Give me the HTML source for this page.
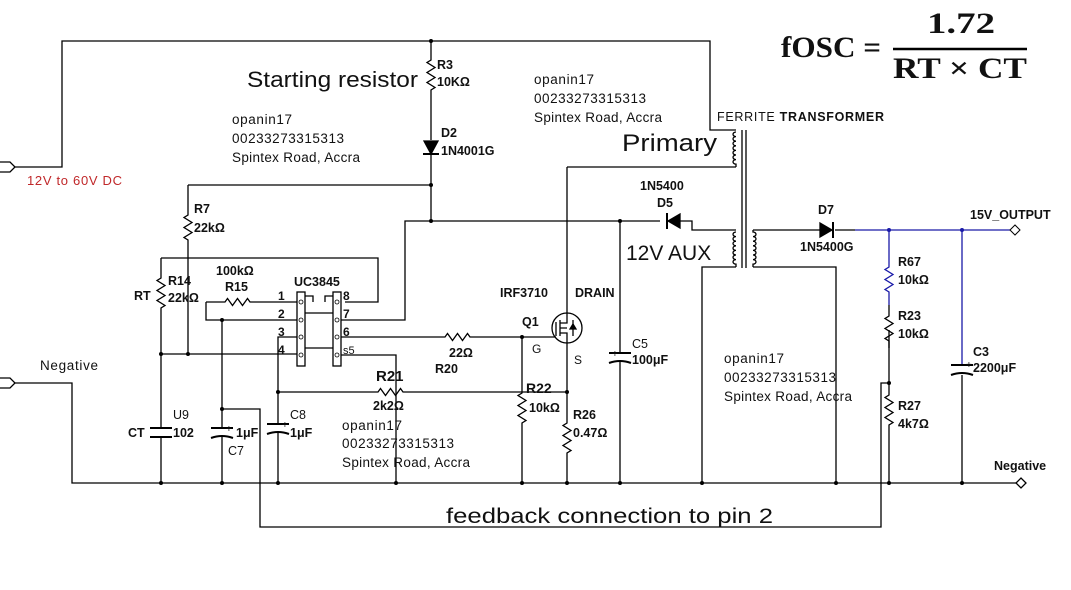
<!DOCTYPE html>
<html><head><meta charset="utf-8"><style>
html,body{margin:0;padding:0;background:#fff;width:1071px;height:590px;overflow:hidden}
svg{display:block}
text{font-family:"Liberation Sans",Arial,sans-serif;fill:#111}
.b{font-weight:bold;font-size:12.5px}
.n{font-size:13.5px}
.f{font-family:"Liberation Serif",serif;font-weight:bold}
</style></head><body>
<svg width="1071" height="590" viewBox="0 0 1071 590" xmlns="http://www.w3.org/2000/svg">
<g fill="none" stroke="#000" stroke-width="1.3">
<path d="M0 162 H10 L15 167 L10 172 H0"/>
<path d="M15 167 H62 V41 H710 V130 H736"/>
<path d="M0 378 H10 L15 383 L10 388 H0"/>
<path d="M15 383 H72 V483 H1016"/>
<path d="M1016 483 l5 -5 l5 5 l-5 5 z"/>
<path d="M431 41 V60 l-4 2.5 l8 5 l-8 5 l8 5 l-8 5 l8 5 l-4 2.5 V140"/>
<path d="M431 155 V221"/>
<path d="M188 185 H431"/>
<path d="M188 185 V215 l-4 2.5 l8 5 l-8 5 l8 5 l-8 5 l4 2.5 V354"/>
<path d="M161 258 V278 l-4 2.5 l8 5 l-8 5 l8 5 l-8 5 l8 5 l-4 2.5 V428"/>
<path d="M161 437 V483"/>
<path d="M161 258 H378 V302 H345"/>
<path d="M161 354 H297"/>
<rect x="297" y="292" width="8" height="74"/>
<rect x="333" y="292" width="8" height="74"/>
<path d="M305 296 H313 V302 M325 302 V296 H333 M305 313 H333 M305 348 H333"/>
<path d="M206 302 H225 l2.5 -3.5 l5 7 l5 -7 l5 7 l5 -7 l2.5 3.5 H297"/>
<path d="M206 302 V320 H297"/>
<path d="M222 320 V428 M222 437 V483"/>
<path d="M222 409 H260 V527 H881 V383 H889"/>
<path d="M341 320 H405 V221 H660"/>
<path d="M341 337 H445 l2.5 -3.5 l5 7 l5 -7 l5 7 l5 -7 l2.5 3.5 H556"/>
<path d="M341 355 H396 V483"/>
<path d="M297 337 H278 V424 M278 433 V483"/>
<path d="M278 392 H378 l2.5 -3.5 l5 7 l5 -7 l5 7 l5 -7 l2.5 3.5 H567"/>
<path d="M522 337 V393 l-4 2.5 l8 5 l-8 5 l8 5 l-8 5 l8 5 l-4 2.5 V483"/>
<path d="M567 167 V313 M567 343 V423 l-4 2.5 l8 5 l-8 5 l8 5 l-8 5 l8 5 l-4 2.5 V483"/>
<circle cx="567" cy="328" r="15"/>
<path d="M556 322 V336 M560 320 V336 M560 323 H567 V313 M560 333 H567 V343 M560 328 H567 M573 320 V336"/>
<path d="M567 167 H736"/>
<path d="M620 221 V353 M620 362 V483"/>
<path d="M680 221 H692 V230 H736"/>
<path d="M736 267 H702 V483"/>
<path d="M742 130 V268 M746 130 V268"/>
<path d="M736 132 a3 2.3 0 0 0 0 4.6 a3 2.3 0 0 0 0 4.6 a3 2.3 0 0 0 0 4.6 a3 2.3 0 0 0 0 4.6 a3 2.3 0 0 0 0 4.6 a3 2.3 0 0 0 0 4.6 a3 2.3 0 0 0 0 4.6 V167"/>
<path d="M736 232 a3 2.3 0 0 0 0 4.6 a3 2.3 0 0 0 0 4.6 a3 2.3 0 0 0 0 4.6 a3 2.3 0 0 0 0 4.6 a3 2.3 0 0 0 0 4.6 a3 2.3 0 0 0 0 4.6 a3 2.3 0 0 0 0 4.6 V267"/>
<path d="M753 230 V232 a3 2.3 0 0 1 0 4.6 a3 2.3 0 0 1 0 4.6 a3 2.3 0 0 1 0 4.6 a3 2.3 0 0 1 0 4.6 a3 2.3 0 0 1 0 4.6 a3 2.3 0 0 1 0 4.6 a3 2.3 0 0 1 0 4.6 V267"/>
<path d="M753 230 H820 M835 230 H855"/>
<path d="M753 267 H836 V483"/>
<path d="M889 330 V395 l-4 2.5 l8 5 l-8 5 l8 5 l-8 5 l8 5 l-4 2.5 V483"/>
<path d="M962 375 V483"/>
</g>
<g fill="none" stroke="#1a1aa8" stroke-width="1.3">
<path d="M855 230 H1010"/>
<path d="M889 230 V267 l-4 2.5 l8 5 l-8 5 l8 5 l-8 5 l4 2.5 V305"/>
<path d="M962 230 V365"/>
</g>
<path d="M889 305 V316 l-4 2.5 l8 5 l-8 5 l8 5 l-8 5 l4 2.5 V348" fill="none" stroke="#000" stroke-width="1.3"/>
<path d="M1010 230 l5 -5 l5 5 l-5 5 z" fill="#fff" stroke="#000"/>
<g fill="#fff" stroke="#000" stroke-width="0.8">
<circle cx="301" cy="302" r="2"/><circle cx="301" cy="320" r="2"/><circle cx="301" cy="337" r="2"/><circle cx="301" cy="355" r="2"/>
<circle cx="337" cy="302" r="2"/><circle cx="337" cy="320" r="2"/><circle cx="337" cy="337" r="2"/><circle cx="337" cy="355" r="2"/>
</g>
<g stroke="#000" stroke-width="2" fill="none">
<path d="M150 428 H172 M150 437 H172"/>
<path d="M211 428 H233 M211 438 q11 -4 22 0"/>
<path d="M267 424 H289 M267 434 q11 -4 22 0"/>
<path d="M609 353 H631 M609 363 q11 -4 22 0"/>
<path d="M951 365 H973 M951 375 q11 -4 22 0"/>
</g>
<g fill="#000" stroke="#000" stroke-width="1.3">
<path d="M424 141 H438 L431 154 Z"/><path d="M423 154 H439" fill="none" stroke-width="2"/>
<path d="M680 214 V228 L668 221 Z"/><path d="M667 213 V229" fill="none" stroke-width="2"/>
<path d="M820 223 V237 L832 230 Z"/><path d="M833 222 V238" fill="none" stroke-width="2"/>
<path d="M570 329 L576 329 L573 324 Z"/>
</g>
<g fill="#000">
<circle cx="431" cy="41" r="2"/><circle cx="431" cy="185" r="2"/><circle cx="431" cy="221" r="2"/>
<circle cx="620" cy="221" r="2"/><circle cx="188" cy="354" r="2"/><circle cx="161" cy="354" r="2"/>
<circle cx="222" cy="320" r="2"/><circle cx="222" cy="409" r="2"/><circle cx="278" cy="392" r="2"/>
<circle cx="522" cy="337" r="2"/><circle cx="567" cy="392" r="2"/><circle cx="889" cy="383" r="2"/>
<circle cx="161" cy="483" r="2"/><circle cx="222" cy="483" r="2"/><circle cx="278" cy="483" r="2"/><circle cx="396" cy="483" r="2"/>
<circle cx="522" cy="483" r="2"/><circle cx="567" cy="483" r="2"/><circle cx="620" cy="483" r="2"/><circle cx="702" cy="483" r="2"/>
<circle cx="836" cy="483" r="2"/><circle cx="889" cy="483" r="2"/><circle cx="962" cy="483" r="2"/>
</g>
<g fill="#1a1aa8"><circle cx="889" cy="230" r="2"/><circle cx="962" cy="230" r="2"/></g>
<text x="247" y="87" font-size="22" textLength="171" lengthAdjust="spacingAndGlyphs">Starting resistor</text>
<text x="437" y="69" class="b">R3</text><text x="437" y="86" class="b">10KΩ</text>
<text x="441" y="137" class="b">D2</text><text x="441" y="155" class="b">1N4001G</text>
<g class="n"><text x="232" y="124" textLength="60">opanin17</text><text x="232" y="143" textLength="112">00233273315313</text><text x="232" y="162" textLength="128">Spintex Road, Accra</text></g>
<g class="n"><text x="534" y="84" textLength="60">opanin17</text><text x="534" y="103" textLength="112">00233273315313</text><text x="534" y="122" textLength="128">Spintex Road, Accra</text></g>
<g class="n"><text x="342" y="430" textLength="60">opanin17</text><text x="342" y="448" textLength="112">00233273315313</text><text x="342" y="467" textLength="128">Spintex Road, Accra</text></g>
<g class="n"><text x="724" y="363" textLength="60">opanin17</text><text x="724" y="382" textLength="112">00233273315313</text><text x="724" y="401" textLength="128">Spintex Road, Accra</text></g>
<text x="27" y="185" font-size="13" textLength="95" style="fill:#c0282a">12V to 60V DC</text>
<text x="40" y="370" font-size="13.5" textLength="58">Negative</text>
<text x="622" y="151" font-size="24" textLength="95" lengthAdjust="spacingAndGlyphs">Primary</text>
<text x="717" y="121" font-size="12.5" textLength="167">FERRITE <tspan font-weight="bold">TRANSFORMER</tspan></text>
<text x="640" y="190" class="b">1N5400</text><text x="657" y="207" class="b">D5</text>
<text x="626" y="260" font-size="21">12V AUX</text>
<text x="818" y="214" class="b">D7</text><text x="800" y="251" class="b">1N5400G</text>
<text x="970" y="219" class="b">15V_OUTPUT</text>
<text x="898" y="266" class="b">R67</text><text x="898" y="284" class="b">10kΩ</text>
<text x="898" y="320" class="b">R23</text><text x="898" y="338" class="b">10kΩ</text>
<text x="898" y="410" class="b">R27</text><text x="898" y="428" class="b">4k7Ω</text>
<text x="973" y="356" class="b">C3</text><text x="973" y="372" class="b">2200μF</text>
<text x="994" y="470" class="b">Negative</text>
<text x="500" y="297" class="b">IRF3710</text><text x="575" y="297" class="b">DRAIN</text>
<text x="522" y="326" class="b">Q1</text>
<text x="532" y="353" font-size="12">G</text><text x="574" y="364" font-size="12">S</text>
<text x="632" y="348" font-size="12.5">C5</text><text x="632" y="364" class="b">100μF</text>
<text x="449" y="357" class="b">22Ω</text><text x="435" y="373" class="b">R20</text>
<text x="526" y="393" font-size="14" font-weight="bold">R22</text><text x="529" y="412" class="b">10kΩ</text>
<text x="573" y="419" class="b">R26</text><text x="573" y="437" class="b">0.47Ω</text>
<text x="376" y="381" font-size="15" font-weight="bold">R21</text><text x="373" y="410" class="b">2k2Ω</text>
<text x="216" y="275" class="b">100kΩ</text><text x="225" y="291" class="b">R15</text>
<text x="294" y="286" class="b">UC3845</text>
<g font-size="12" font-weight="bold"><text x="278" y="300">1</text><text x="278" y="318">2</text><text x="278" y="336">3</text><text x="278" y="354">4</text>
<text x="343" y="300">8</text><text x="343" y="318">7</text><text x="343" y="336">6</text></g>
<text x="343" y="354" font-size="11">s5</text>
<text x="194" y="213" class="b">R7</text><text x="194" y="232" class="b">22kΩ</text>
<text x="168" y="285" class="b">R14</text><text x="168" y="302" class="b">22kΩ</text>
<text x="134" y="300" class="b">RT</text>
<text x="128" y="437" class="b">CT</text>
<text x="173" y="419" font-size="12.5">U9</text><text x="173" y="437" class="b">102</text>
<text x="236" y="437" class="b">1μF</text><text x="228" y="455" font-size="12.5">C7</text>
<text x="290" y="419" font-size="12.5">C8</text><text x="290" y="437" class="b">1μF</text>
<text x="226" y="432" font-size="10">+</text><text x="282" y="428" font-size="10">+</text><text x="612" y="357" font-size="10">+</text><text x="966" y="368" font-size="10">+</text>
<text x="446" y="523" font-size="21" textLength="327" lengthAdjust="spacingAndGlyphs">feedback connection to pin 2</text>
<text x="781" y="57" font-size="30" class="f" textLength="100" lengthAdjust="spacingAndGlyphs">fOSC =</text>
<text x="927" y="33" font-size="30" class="f" textLength="68" lengthAdjust="spacingAndGlyphs">1.72</text>
<text x="893" y="78" font-size="30" class="f" textLength="134" lengthAdjust="spacingAndGlyphs">RT × CT</text>
<path d="M893 49 H1027" stroke="#000" stroke-width="2.5"/>
</svg>
</body></html>
